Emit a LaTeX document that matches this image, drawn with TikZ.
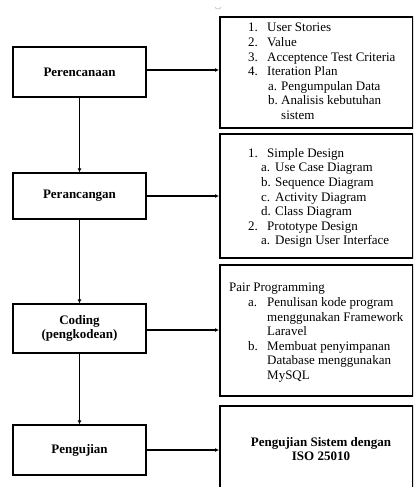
\documentclass[tikz,border=0pt]{standalone}
\usepackage{fontspec}
\setmainfont{Liberation Serif}
\usetikzlibrary{arrows.meta}
\newcommand{\nitem}[2]{\makebox[19pt][l]{#1}#2}
\newcommand{\sitem}[4]{\hspace*{#1}\makebox[#2][l]{#3}#4}

\begin{document}
\begin{tikzpicture}[x=1pt,y=-1pt,
		tahap/.style={draw, line width=1.3pt, minimum width=133pt, align=center,
			font=\fontsize{13}{14}\selectfont\bfseries},
		kotak/.style={draw, line width=1.6pt, anchor=north west, inner sep=0pt},
		isi/.style={anchor=north west, inner sep=0pt, align=left,
			font=\fontsize{13}{14.6}\selectfont},
		panah/.style={line width=1.3pt, -{Latex[length=4pt,width=4pt]}}]
		\useasboundingbox (0,0) rectangle (413,487);
		\clip (0,0) rectangle (413,487);

		% tahapan kiri
		\node[tahap, minimum height=50pt] (rencana) at (79.5,72) {Perencanaan};
		\node[tahap, minimum height=46pt] (rancang) at (79.5,196) {Perancangan};
		\node[tahap, minimum height=49pt] (coding) at (79.5,328.5) {Coding\\(pengkodean)};
		\node[tahap, minimum height=50pt] (uji) at (79.5,450) {Pengujian};

		% kotak kanan
		\node[kotak, minimum width=193pt, minimum height=111pt] (k1) at (219,16) {};
		\node[kotak, minimum width=193pt, minimum height=124pt] (k2) at (219,133) {};
		\node[kotak, minimum width=193pt, minimum height=131pt] (k3) at (219,264) {};
		\node[kotak, minimum width=193pt, minimum height=110pt] (k4) at (219,405) {};

		\node[isi] (t1) at (248,23) {
			\nitem{1.}{User Stories}\\
			\nitem{2.}{Value}\\
			\nitem{3.}{Acceptence Test Criteria}\\
			\nitem{4.}{Iteration Plan}\\
			\sitem{20pt}{13pt}{a.}{Pengumpulan Data}\\
			\sitem{20pt}{13pt}{b.}{Analisis kebutuhan}\\
			\hspace*{33pt}sistem};
		\node[isi] (t2) at (248,148) {
			\nitem{1.}{Simple Design}\\
			\sitem{13pt}{14pt}{a.}{Use Case Diagram}\\
			\sitem{13pt}{14pt}{b.}{Sequence Diagram}\\
			\sitem{13pt}{14pt}{c.}{Activity Diagram}\\
			\sitem{13pt}{14pt}{d.}{Class Diagram}\\
			\nitem{2.}{Prototype Design}\\
			\sitem{13pt}{14pt}{a.}{Design User Interface}};
		\node[isi] (t3) at (229,283) {
			Pair Programming\\
			\sitem{19pt}{19pt}{a.}{Penulisan kode program}\\
			\hspace*{38pt}menggunakan Framework\\
			\hspace*{38pt}Laravel\\
			\sitem{19pt}{19pt}{b.}{Membuat penyimpanan}\\
			\hspace*{38pt}Database menggunakan\\
			\hspace*{38pt}MySQL};
		\node[align=center, font=\fontsize{13}{13.5}\selectfont\bfseries] (t4) at (321,449)
			{Pengujian Sistem dengan\\ISO 25010};

		\draw[gray!50, line width=0.6pt] (215,7) arc (180:360:3pt and 2pt);

		% alur
		\draw[panah] (rencana) -- (rancang);
		\draw[panah] (rancang) -- (coding);
		\draw[panah] (coding) -- (uji);
		\draw[panah] (rencana.east |- 0,70) -- (k1.west |- 0,70);
		\draw[panah] (rancang.east) -- (rancang.east -| k2.west);
		\draw[panah] (coding.east |- 0,330) -- (k3.west |- 0,330);
		\draw[panah] (uji.east) -- (uji.east -| k4.west);
	\end{tikzpicture}
\end{document}
